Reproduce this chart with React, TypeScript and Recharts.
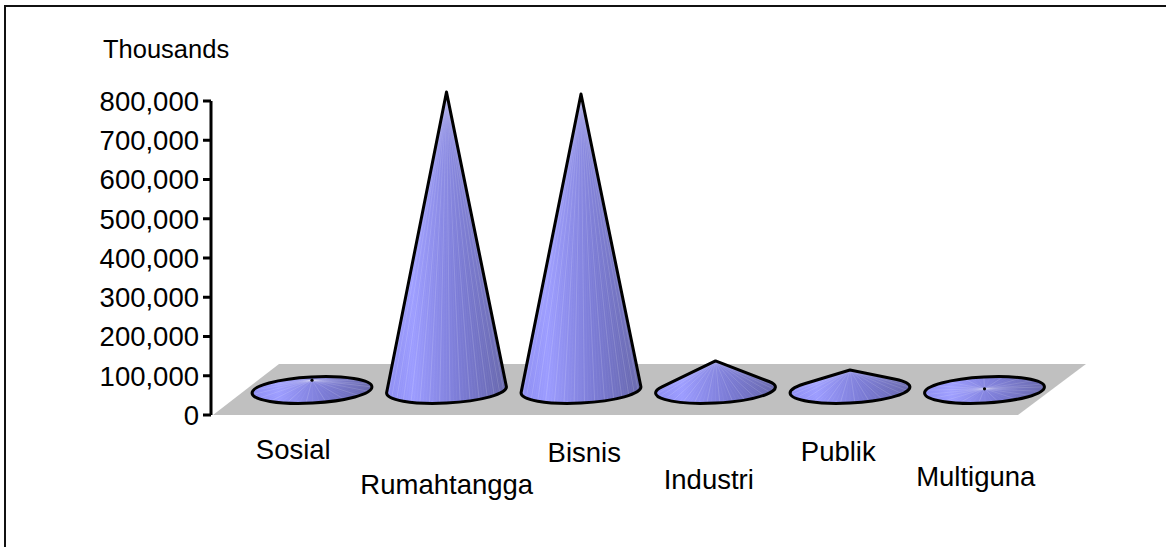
import React from "react";
import { BarChart, Bar, XAxis, YAxis, ReferenceArea } from "recharts";

const categories = ["Sosial", "Rumahtangga", "Bisnis", "Industri", "Publik", "Multiguna"];
const values = [25000, 759000, 754000, 74000, 51000, 3000];
const yTicks = [0, 100000, 200000, 300000, 400000, 500000, 600000, 700000, 800000];
const floorTop = 130000;

const data = categories.map((name, i) => ({ name, value: values[i] }));

// staggered category labels, dx / baseline of each one
const labelNudge = [
  { dx: -19, y: 459 },
  { dx: 0, y: 494 },
  { dx: 3, y: 462 },
  { dx: -7, y: 489 },
  { dx: -12, y: 461 },
  { dx: -9, y: 486 },
];

const FONT = '"Liberation Sans", Arial, sans-serif';
const DEPTH = 25; // base of the cones sits this far above the zero line
const TILT = (-3 * Math.PI) / 180;
const RY = 13;
const AXIS_PAD = 34;

const rot = (x: number, y: number, a: number) => [
  x * Math.cos(a) - y * Math.sin(a),
  x * Math.sin(a) + y * Math.cos(a),
];

const Cone = (props: any) => {
  const { x, y, width, height } = props;
  const rx = width / 2;
  const cx = x + rx;
  const cy = y + height - DEPTH;
  const apexY = y - DEPTH;

  // apex in the frame of the tilted rim, scaled so the rim is a unit circle
  const [ax, ay] = rot(0, apexY - cy, -TILT);
  const ux = ax / rx;
  const uy = ay / RY;
  const d = Math.hypot(ux, uy);
  const rim = (t: number) => {
    const [px, py] = rot(Math.cos(t) * rx, Math.sin(t) * RY, TILT);
    return [cx + px, cy + py];
  };

  let start = 0;
  let end = Math.PI * 2;
  let outline = "";
  if (d > 1) {
    const base = Math.atan2(uy, ux);
    const off = Math.acos(1 / d);
    start = base + off;
    end = base - off + Math.PI * 2;
    const [sx, sy] = rim(start);
    const [ex, ey] = rim(end);
    const large = end - start > Math.PI ? 1 : 0;
    outline = `M${cx},${apexY} L${sx},${sy} A${rx},${RY} -3 ${large} 1 ${ex},${ey} Z`;
  } else {
    const [lx, ly] = rim(Math.PI);
    const [qx, qy] = rim(0);
    outline = `M${lx},${ly} A${rx},${RY} -3 1 1 ${qx},${qy} A${rx},${RY} -3 1 1 ${lx},${ly} Z`;
  }

  const rays = [];
  const count = 56;
  for (let i = 0; i <= count; i++) {
    const [px, py] = rim(start + ((end - start) * i) / count);
    rays.push(
      <line key={i} x1={cx} y1={apexY} x2={px} y2={py} stroke="#ffffff" strokeOpacity={i % 3 === 0 ? 0.2 : 0.06} strokeWidth={0.8} />
    );
  }

  return (
    <g>
      <path d={outline} fill="url(#coneFill)" />
      {rays}
      <path d={outline} fill="none" stroke="#000" strokeWidth={3} strokeLinejoin="round" />
      {d <= 1 && <circle cx={cx} cy={apexY} r={1.6} fill="#000" />}
    </g>
  );
};

// the reference area only gets the padded range, so widen it back to the full plot
const Floor = (props: any) => {
  const { x, y, width, height } = props;
  const left = x - AXIS_PAD;
  const right = x + width + AXIS_PAD;
  const skew = 68;
  const pts = [
    [left + 2, y + height],
    [right - skew, y + height],
    [right, y],
    [left + skew, y],
  ];
  return <polygon points={pts.map((p) => p.join(",")).join(" ")} fill="#c0c0c0" />;
};

const CategoryTick = (props: any) => {
  const { x, index, payload } = props;
  const n = labelNudge[index];
  return (
    <text x={x + n.dx} y={n.y} textAnchor="middle" fontFamily={FONT} fontSize={27.5} fill="#000">
      {payload.value}
    </text>
  );
};

export default function App() {
  return (
    <div style={{ position: "absolute", left: 0, top: 0, width: 1170, height: 547, background: "#fff", overflow: "hidden" }}>
      <div style={{ position: "absolute", left: 4, top: 5, width: 1160, height: 560, borderLeft: "2px solid #111", borderTop: "2px solid #111" }} />
      <div style={{ position: "absolute", left: 103, top: 35, fontFamily: FONT, fontSize: 25.5, color: "#000", lineHeight: "28px" }}>Thousands</div>
      <BarChart
        width={1170}
        height={547}
        data={data}
        margin={{ top: 101, right: 84, bottom: 0, left: 0 }}
        style={{ position: "absolute", left: 0, top: 0 }}
      >
        <defs>
          <linearGradient id="coneFill" x1="0" y1="0" x2="1" y2="0">
            <stop offset="0%" stopColor="#8c8cf2" />
            <stop offset="22%" stopColor="#9c9cff" />
            <stop offset="60%" stopColor="#7c7cd6" />
            <stop offset="100%" stopColor="#6666ac" />
          </linearGradient>
        </defs>
        <XAxis
          dataKey="name"
          axisLine={false}
          tickLine={false}
          interval={0}
          height={132}
          padding={{ left: AXIS_PAD, right: AXIS_PAD }}
          tick={<CategoryTick />}
        />
        <YAxis
          width={211}
          domain={[0, 800000]}
          ticks={yTicks}
          interval={0}
          tickFormatter={(v: number) => v.toLocaleString("en-US")}
          axisLine={{ stroke: "#000", strokeWidth: 3 }}
          tickLine={{ stroke: "#000", strokeWidth: 3 }}
          tickSize={8}
          tickMargin={4}
          tick={{ fontFamily: FONT, fontSize: 27.5, fill: "#000" }}
        />
        <ReferenceArea y1={0} y2={floorTop} shape={<Floor />} />
        <Bar dataKey="value" barSize={120} isAnimationActive={false} shape={<Cone />} />
      </BarChart>
    </div>
  );
}
